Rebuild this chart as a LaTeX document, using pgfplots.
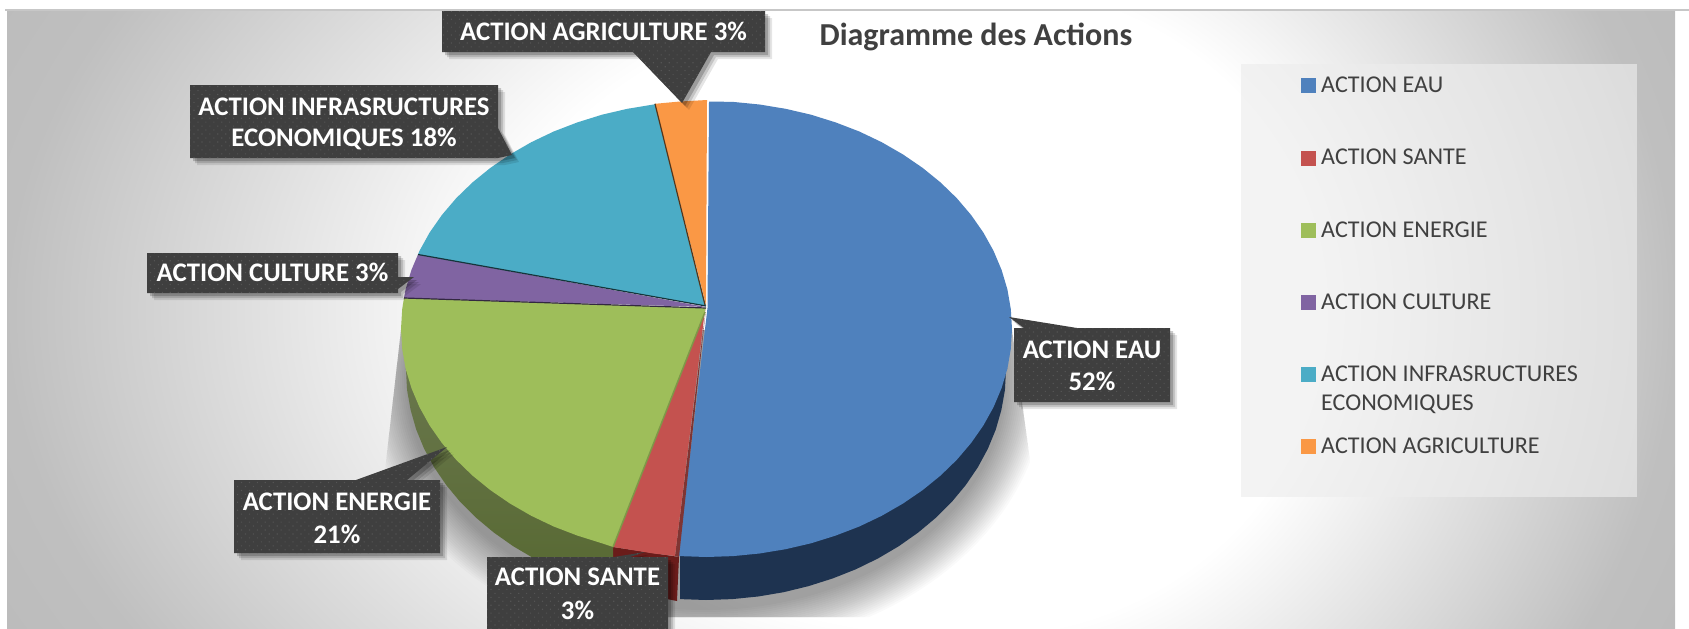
\documentclass[border=0pt]{standalone}
\usepackage{fontspec}
\setmainfont{Carlito}
\usepackage{pgfplots}
\pgfplotsset{compat=1.18}
\usetikzlibrary{patterns.meta}

\definecolor{cblue}{HTML}{4F81BD}
\definecolor{cred}{HTML}{C4524F}
\definecolor{cgreen}{HTML}{9EBE5A}
\definecolor{cpurple}{HTML}{8064A2}
\definecolor{cteal}{HTML}{4BACC6}
\definecolor{corange}{HTML}{FA9845}
\definecolor{sblue}{HTML}{1E3350}
\definecolor{sred}{HTML}{6A1C1A}
\definecolor{boxc}{HTML}{3F3F3F}
\definecolor{txt}{HTML}{404040}

\pgfdeclareradialshading{bggrad}{\pgfpointorigin}{color(0bp)=(white); color(12.5bp)=(white); color(25bp)=(black!25); color(36bp)=(black!30); color(50bp)=(black!30)}

% callout: polygon path, shadow first
\newcommand{\callout}[1]{%
  \foreach \s/\o in {7/.10,5/.14,3/.2}{
    \fill[black,opacity=\o,xshift=\s pt,yshift=-\s pt] #1;
  }
  \fill[boxc] #1;
  \fill[pattern={Dots[distance=5.6pt,radius=0.8pt,angle=45]},pattern color=black!67] #1;
}
\newcommand{\lab}[3]{\node[anchor=base,text=white,font=\bfseries\fontsize{26.8}{30}\selectfont,inner sep=0pt] at (axis cs:#1,#2) {#3};}
\newcommand{\leg}[3]{\node[anchor=base west,text=txt,font=\fontsize{24.1}{28}\selectfont,inner sep=0pt] at (axis cs:#1,#2) {#3};}

\begin{document}
\begin{tikzpicture}
\begin{axis}[
    at={(0,0)},anchor=south west,
    scale only axis,
    width=1689pt,height=629pt,
    xmin=0,xmax=1689,ymin=0,ymax=629,
    y dir=reverse,
    hide axis,
    clip=false
]
% background
\pgfplotsextra{
  \begin{scope}
    \clip (axis cs:7,10.5) rectangle (axis cs:975,629);
    \shade[shading=bggrad] (axis cs:7,-340) rectangle (axis cs:1943,960);
  \end{scope}
  \begin{scope}
    \clip (axis cs:975,10.5) rectangle (axis cs:1689,629);
    \shade[shading=bggrad] (axis cs:275,-340) rectangle (axis cs:1675,960);
  \end{scope}
  \draw[black!22,line width=1.5pt] (axis cs:5,10) -- (axis cs:1689,10);
  \fill[black!7,opacity=.65] (axis cs:1241,64) rectangle (axis cs:1637,497);
  % pie shadow
  \begin{scope}
    \clip (axis cs:401,330) -- (axis cs:385,470) -- (axis cs:430,617) -- (axis cs:1040,617) -- (axis cs:1031,467) -- (axis cs:1012,330) -- cycle;
    \foreach \k in {0,2,...,40}{
      \fill[black,opacity=.018] (axis cs:706,380) ellipse [x radius={300+\k},y radius={230+\k}];
    }
  \end{scope}
}

% side walls
\addplot[draw=none,fill=sblue] coordinates {
 (1007.4,368.6) (1006,370) (1004.9,390.1) (1001.4,409.9) (995.8,429.5) (987.9,448.7)
 (977.9,467.2) (965.8,485) (951.8,501.9) (935.8,517.8) (918.1,532.6) (898.8,546.2)
 (878.1,558.4) (856,569.2) (832.8,578.4) (808.6,586.1) (783.6,592.2) (758.1,596.5)
 (732.2,599.1) (706,600) (680,599.1) (680,556)
} --cycle;
\addplot[draw=none,fill=sred] coordinates {
 (613,547) (613,589.5) (628.4,592.2) (653.9,596.5) (677,601) (679,557)
} --cycle;
\addplot[draw=none,left color=black!50!cgreen!85,right color=black!45!cgreen,shading angle=0] coordinates {
 (405.6,368.6) (406,370) (407.1,390.1) (410.6,409.9) (416.2,429.5) (424.1,448.7)
 (434.1,467.2) (446.2,485) (460.2,501.9) (476.2,517.8) (493.9,532.6) (513.2,546.2)
 (533.9,558.4) (556,569.2) (579.2,578.4) (603.4,586.1) (613,589.5) (613,547)
} --cycle;

% top faces
\addplot[draw=none,fill=cblue] coordinates {
 (709,101.5) (733.1,101.9) (759.5,104.5) (785.6,108.8) (811,114.7) (835.6,122.4)
 (859.3,131.5) (881.7,142.2) (902.9,154.4) (922.5,167.8) (940.5,182.4) (956.8,198.2)
 (971.1,215) (983.4,232.6) (993.6,251) (1001.6,270) (1007.4,289.4) (1010.8,309.1)
 (1012,329) (1010.8,348.9) (1007.4,368.6) (1001.6,388) (993.6,407) (983.4,425.4)
 (971.1,443) (956.8,459.8) (940.5,475.6) (922.5,490.2) (902.9,503.6) (881.7,515.8)
 (859.3,526.5) (835.6,535.6) (811,543.3) (785.6,549.2) (759.5,553.5) (733.1,556.1)
 (706.5,557) (679.9,556.1) (678,556) (707.5,308)
} --cycle;
\addplot[draw=none,fill=black!35!cred] coordinates {(706,308) (679,557) (675,556)} --cycle;
\addplot[draw=none,fill=cred] coordinates {
 (705,310) (675,556) (653.5,553.5) (627.4,549.2) (613,547)
} --cycle;
\addplot[draw=none,fill=cgreen] coordinates {
 (706,308) (613,547) (602,543.3) (577.4,535.6) (553.7,526.5) (531.3,515.8) (510.1,503.6)
 (490.5,490.2) (472.5,475.6) (456.2,459.8) (441.9,443) (429.6,425.4) (419.4,407)
 (411.4,388) (405.6,368.6) (402.2,348.9) (401,329) (402.2,309.1) (404,298)
} --cycle;
\addplot[draw=none,fill=cpurple] coordinates {
 (706,307) (404,298) (405.6,289.4) (411.4,270) (418,254.5)
} --cycle;
\addplot[draw=none,fill=cteal] coordinates {
 (706,306) (418,254.5) (419.4,251) (429.6,232.6) (441.9,215) (456.2,198.2) (472.5,182.4)
 (490.5,167.8) (510.1,154.4) (531.3,142.2) (553.7,131.5) (577.4,122.4) (602,114.7)
 (627.4,108.8) (653.5,104.5) (655,103.8)
} --cycle;
\addplot[draw=none,fill=corange] coordinates {
 (706,305) (655,103.8) (680,101.5) (707,100)
} --cycle;
% dark seams
\addplot[black!70!cteal,line width=1.2pt] coordinates {(418,254.5) (706,306)};
\addplot[black!60!cpurple,line width=1.2pt] coordinates {(404,298) (706,308)};
\addplot[black!65!corange,line width=1.2pt] coordinates {(655,103.8) (705,305)};
\addplot[black!20!cgreen,line width=1.5pt] coordinates {(613,547) (705,312)};

% data labels
\pgfplotsextra{
  \callout{(axis cs:442,11) -- (axis cs:765,11) -- (axis cs:765,52) -- (axis cs:711,52) -- (axis cs:682,103) -- (axis cs:633,52) -- (axis cs:442,52) -- cycle}
  \callout{(axis cs:190,85) -- (axis cs:498,85) -- (axis cs:498,128) -- (axis cs:512,155) -- (axis cs:498,158) -- (axis cs:190,158) -- cycle}
  \callout{(axis cs:147,253) -- (axis cs:398,253) -- (axis cs:398,277) -- (axis cs:414,277) -- (axis cs:398,289) -- (axis cs:398,293) -- (axis cs:147,293) -- cycle}
  \callout{(axis cs:234,480) -- (axis cs:356,480) -- (axis cs:447,447) -- (axis cs:407,480) -- (axis cs:440,480) -- (axis cs:440,553) -- (axis cs:234,553) -- cycle}
  \callout{(axis cs:487,557) -- (axis cs:614,557) -- (axis cs:645,552) -- (axis cs:630,557) -- (axis cs:668,557) -- (axis cs:668,640) -- (axis cs:487,640) -- cycle}
  \callout{(axis cs:1014,328) -- (axis cs:1024,328) -- (axis cs:1009,317) -- (axis cs:1077,328) -- (axis cs:1170,328) -- (axis cs:1170,402) -- (axis cs:1014,402) -- cycle}
}
\lab{603.5}{40.5}{ACTION AGRICULTURE 3\%}
\lab{344}{115}{ACTION INFRASRUCTURES}
\lab{344}{146.5}{ECONOMIQUES 18\%}
\lab{272.5}{281.5}{ACTION CULTURE 3\%}
\lab{337}{510.5}{ACTION ENERGIE}
\lab{337}{543.5}{21\%}
\lab{577.5}{585.5}{ACTION SANTE}
\lab{577.5}{619.5}{3\%}
\lab{1092}{358.5}{ACTION EAU}
\lab{1092}{390.5}{52\%}

% title
\node[anchor=base,text=txt,font=\bfseries\fontsize{32}{36}\selectfont,inner sep=0pt] at (axis cs:976,45) {Diagramme des Actions};

% legend
\addplot[only marks,mark=square*,mark size=7pt,cblue] coordinates {(1308.5,85)};
\addplot[only marks,mark=square*,mark size=7pt,cred] coordinates {(1308.5,158)};
\addplot[only marks,mark=square*,mark size=7pt,cgreen] coordinates {(1308.5,230)};
\addplot[only marks,mark=square*,mark size=7pt,cpurple] coordinates {(1308.5,302)};
\addplot[only marks,mark=square*,mark size=7pt,cteal] coordinates {(1308.5,374)};
\addplot[only marks,mark=square*,mark size=7pt,corange] coordinates {(1308.5,446)};
\leg{1321}{92.5}{ACTION EAU}
\leg{1321}{164.5}{ACTION SANTE}
\leg{1321}{237}{ACTION ENERGIE}
\leg{1321}{309}{ACTION CULTURE}
\leg{1321}{381}{ACTION INFRASRUCTURES}
\leg{1321}{410}{ECONOMIQUES}
\leg{1321}{453}{ACTION AGRICULTURE}
\end{axis}
\pgfresetboundingbox
\path[use as bounding box] (0pt,0pt) rectangle (1689pt,629pt);
\end{tikzpicture}
\end{document}
